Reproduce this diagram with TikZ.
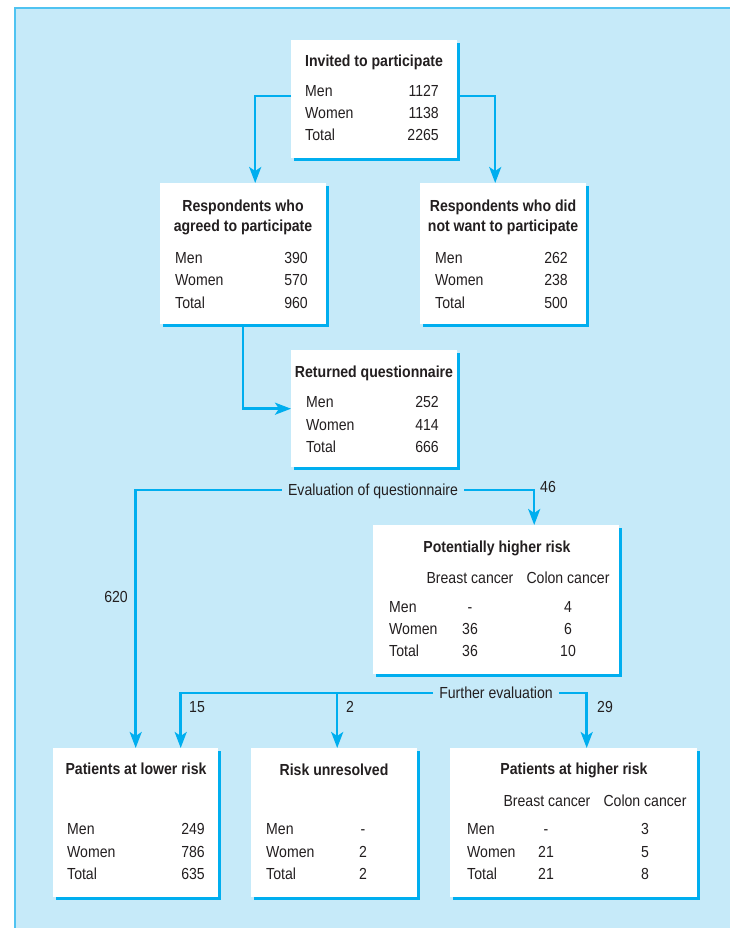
\documentclass[tikz,border=0pt]{standalone}
\usepackage{fontspec}
\setmainfont[FakeStretch=0.88]{Liberation Sans}
\usetikzlibrary{arrows.meta,shadows}
\definecolor{bgblue}{RGB}{198,234,249}
\definecolor{lineblue}{RGB}{0,174,239}
\definecolor{edgeblue}{RGB}{79,195,241}
\definecolor{ink}{RGB}{35,31,32}
\begin{document}
\begin{tikzpicture}[x=1pt,y=-1pt,
  box/.style={fill=white, inner sep=0pt, anchor=north west,
    general shadow={fill=lineblue, shadow xshift=3pt, shadow yshift=-3pt}},
  lbl/.style={inner sep=0pt, text height=11.6pt, text depth=0pt, text=ink,
    font=\fontsize{16}{19}\selectfont},
  ttl/.style={lbl, font=\fontsize{16}{19}\selectfont\bfseries},
  lw/.style={lbl, anchor=west},
  le/.style={lbl, anchor=east},
  arr/.style={draw=lineblue, line width=2.5pt,
    -{Stealth[length=16pt,width=12pt,inset=4pt]}},
  onl/.style={lbl, fill=bgblue, inner xsep=6pt, inner ysep=2pt}]
\useasboundingbox (0,0) rectangle (730,928);
\fill[bgblue] (15,8) rectangle (730,928);
\draw[edgeblue, line width=1.5pt] (15,928) -- (15,8) -- (730,8);

% boxes
\node[box, minimum width=166pt, minimum height=118pt] (invited) at (291,40) {};
\node[box, minimum width=166pt, minimum height=141pt] (agreed) at (160,183) {};
\node[box, minimum width=166pt, minimum height=141pt] (didnot) at (420,183) {};
\node[box, minimum width=166pt, minimum height=117pt] (returned) at (291,350) {};
\node[box, minimum width=246pt, minimum height=149pt] (potential) at (373,525) {};
\node[box, minimum width=165pt, minimum height=149pt] (lower) at (53,748) {};
\node[box, minimum width=166pt, minimum height=149pt] (unres) at (251,748) {};
\node[box, minimum width=247pt, minimum height=149pt] (higher) at (450,748) {};

% Invited
\node[ttl] (t1) at (374,61) {Invited to participate};
\node[lw] (a1) at (305,91) {Men};   \node[le] (a1v) at (439,91) {1127};
\node[lw] (a2) at (305,113) {Women};\node[le] (a2v) at (439,113) {1138};
\node[lw] (a3) at (305,135) {Total};\node[le] (a3v) at (439,135) {2265};

% Agreed
\node[ttl] (t2a) at (243,205.5) {Respondents who};
\node[ttl] (t2b) at (243,226) {agreed to participate};
\node[lw] (b1) at (175,257.5) {Men};   \node[le] (b1v) at (308,257.5) {390};
\node[lw] (b2) at (175,280) {Women};   \node[le] (b2v) at (308,280) {570};
\node[lw] (b3) at (175,302.5) {Total}; \node[le] (b3v) at (308,302.5) {960};

% Did not
\node[ttl] (t3a) at (503,205.5) {Respondents who did};
\node[ttl] (t3b) at (503,226) {not want to participate};
\node[lw] (c1) at (435,257.5) {Men};   \node[le] (c1v) at (568,257.5) {262};
\node[lw] (c2) at (435,280) {Women};   \node[le] (c2v) at (568,280) {238};
\node[lw] (c3) at (435,302.5) {Total}; \node[le] (c3v) at (568,302.5) {500};

% Returned
\node[ttl] (t4) at (374,372) {Returned questionnaire};
\node[lw] (d1) at (306,402) {Men};   \node[le] (d1v) at (439,402) {252};
\node[lw] (d2) at (306,424.5) {Women};\node[le] (d2v) at (439,424.5) {414};
\node[lw] (d3) at (306,447) {Total}; \node[le] (d3v) at (439,447) {666};

% Potentially higher risk
\node[ttl] (t5) at (497,546.5) {Potentially higher risk};
\node[lbl] (e0a) at (470,578) {Breast cancer};
\node[lbl] (e0b) at (568,578) {Colon cancer};
\node[lw] (e1) at (389,607) {Men};   \node[lbl] (e1a) at (470,607) {-};  \node[lbl] (e1b) at (568,607) {4};
\node[lw] (e2) at (389,629) {Women}; \node[lbl] (e2a) at (470,629) {36}; \node[lbl] (e2b) at (568,629) {6};
\node[lw] (e3) at (389,651) {Total}; \node[lbl] (e3a) at (470,651) {36}; \node[lbl] (e3b) at (568,651) {10};

% Lower risk
\node[ttl] (t6) at (136,769) {Patients at lower risk};
\node[lw] (f1) at (67,829) {Men};   \node[le] (f1v) at (205,829) {249};
\node[lw] (f2) at (67,852) {Women}; \node[le] (f2v) at (205,852) {786};
\node[lw] (f3) at (67,874) {Total}; \node[le] (f3v) at (205,874) {635};

% Unresolved
\node[ttl] (t7) at (334,770) {Risk unresolved};
\node[lw] (g1) at (266,829) {Men};   \node[lbl] (g1v) at (363,829) {-};
\node[lw] (g2) at (266,852) {Women}; \node[lbl] (g2v) at (363,852) {2};
\node[lw] (g3) at (266,874) {Total}; \node[lbl] (g3v) at (363,874) {2};

% Higher risk
\node[ttl] (t8) at (574,769) {Patients at higher risk};
\node[lbl] (h0a) at (547,801) {Breast cancer};
\node[lbl] (h0b) at (645,801) {Colon cancer};
\node[lw] (h1) at (467,829) {Men};   \node[lbl] (h1a) at (546,829) {-};  \node[lbl] (h1b) at (645,829) {3};
\node[lw] (h2) at (467,852) {Women}; \node[lbl] (h2a) at (546,852) {21}; \node[lbl] (h2b) at (645,852) {5};
\node[lw] (h3) at (467,874) {Total}; \node[lbl] (h3a) at (546,874) {21}; \node[lbl] (h3b) at (645,874) {8};

% connectors
\draw[arr] ([yshift=3pt]invited.west) -| ([xshift=12pt]agreed.north);
\draw[arr] ([yshift=3pt]invited.east) -| ([xshift=-8pt]didnot.north);
\draw[arr] (agreed.south) |- (returned.west);

\node[onl] (evalq) at (373,490) {Evaluation of questionnaire};
\draw[arr] (evalq.west) -| (lower.north);
\draw[arr] (evalq.east) -| ([xshift=38pt]potential.north);

\node[onl] (furth) at (496,693) {Further evaluation};
\coordinate (udrop) at ([xshift=3pt]unres.north);
\draw[arr] (furth.west) -| ([xshift=45pt]lower.north);
\draw[arr] (udrop |- furth.west) -- (udrop);
\draw[arr] (furth.east) -| ([xshift=13pt]higher.north);

% numbers on connectors
\node[lbl] (n46) at (548,487) {46};
\node[lbl] (n620) at (116,597) {620};
\node[lbl] (n15) at (197,707) {15};
\node[lbl] (n2) at (350,707) {2};
\node[lbl] (n29) at (605,707) {29};
\end{tikzpicture}
\end{document}
